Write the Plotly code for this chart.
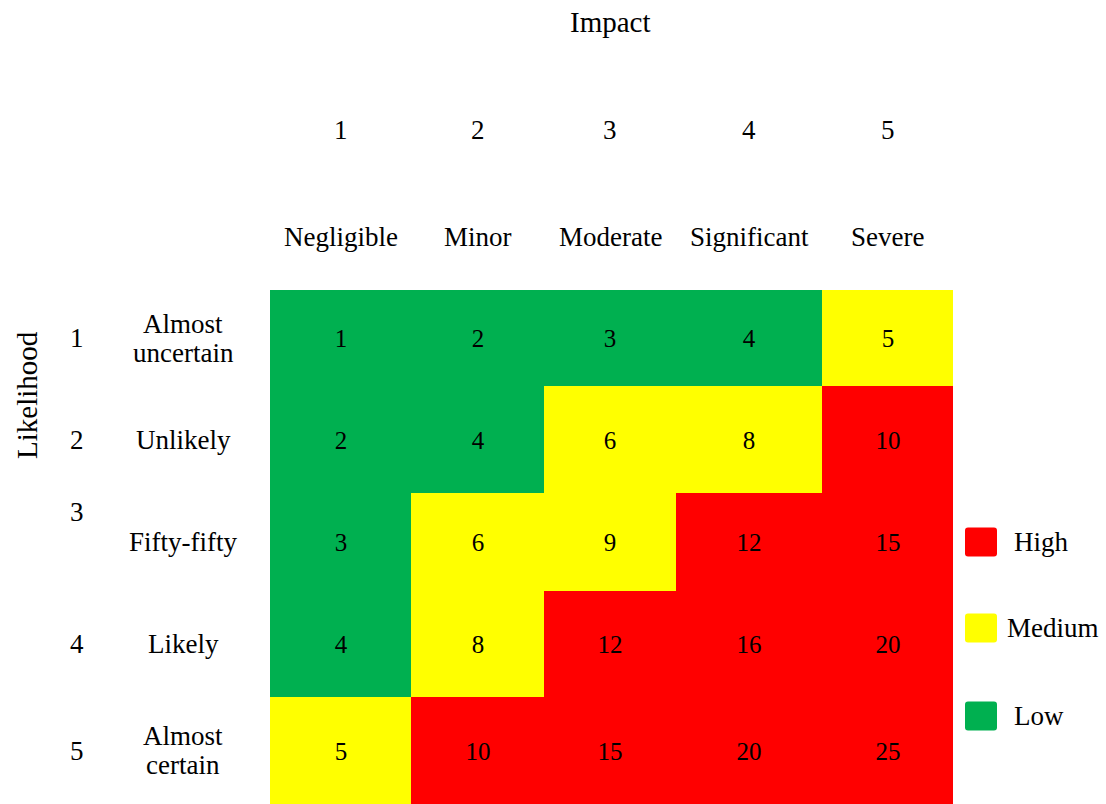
import plotly.graph_objects as go

# ---- data -------------------------------------------------------------
impact_levels = ["1", "2", "3", "4", "5"]
impact_names = ["Negligible", "Minor", "Moderate", "Significant", "Severe"]
likelihood_levels = ["1", "2", "3", "4", "5"]
likelihood_names = [["Almost", "uncertain"], ["Unlikely"], ["Fifty-fifty"],
                    ["Likely"], ["Almost", "certain"]]

# risk score per cell (rows = likelihood, columns = impact)
scores = [
    [1, 2, 3, 4, 5],
    [2, 4, 6, 8, 10],
    [3, 6, 9, 12, 15],
    [4, 8, 12, 16, 20],
    [5, 10, 15, 20, 25],
]
# rating per cell: 0 = Low, 1 = Medium, 2 = High
rating = [
    [0, 0, 0, 0, 1],
    [0, 0, 1, 1, 2],
    [0, 1, 1, 2, 2],
    [0, 1, 2, 2, 2],
    [1, 2, 2, 2, 2],
]
rating_names = ["Low", "Medium", "High"]
rating_colors = ["#00B050", "#FFFF00", "#FF0000"]

# ---- layout geometry ----------------------------------------------------
W, H = 1106, 804
ML, MR, MT, MB = 270, 153, 290, 0
PW, PH = W - ML - MR, H - MT - MB
col_widths = [141, 133, 132, 146, 131]
row_heights = [96, 107, 98, 106, 107]
FONT = "Liberation Serif"


def edges(sizes):
    out = [0]
    for s in sizes:
        out.append(out[-1] + s)
    return out


x_edges = edges(col_widths)
y_edges = edges(row_heights)
x_mid = [(a + b) / 2 for a, b in zip(x_edges[:-1], x_edges[1:])]
y_mid = [(a + b) / 2 for a, b in zip(y_edges[:-1], y_edges[1:])]


def px(x):
    return (x - ML) / PW


def py(y):
    return (H - MB - y) / PH


colorscale = [
    [0.0, rating_colors[0]], [1 / 3, rating_colors[0]],
    [1 / 3, rating_colors[1]], [2 / 3, rating_colors[1]],
    [2 / 3, rating_colors[2]], [1.0, rating_colors[2]],
]

fig = go.Figure(go.Heatmap(
    x=x_edges, y=y_edges, z=rating, zmin=0, zmax=2,
    colorscale=colorscale, showscale=False,
    text=scores, texttemplate="%{text}",
    textfont=dict(family=FONT, size=25, color="black"),
    hoverinfo="skip", xgap=0, ygap=0,
))

ann = []
txt = dict(family=FONT, size=27, color="black")
title_font = dict(family=FONT, size=29, color="black")


def label(text, x, y, xref="paper", yref="paper", xanchor="center", **kw):
    ann.append(dict(text=text, x=x, y=y, xref=xref, yref=yref,
                    xanchor=xanchor, yanchor="middle", showarrow=False,
                    font=kw.pop("font", txt), **kw))


# axis titles
label("Impact", px(610), py(22), font=title_font)
label("Likelihood", px(27), py(395), textangle=-90, font=title_font)

# column headers
for i in range(5):
    label(impact_levels[i], x_mid[i], py(130), xref="x")
    label(impact_names[i], x_mid[i], py(237), xref="x")

# row headers
for j in range(5):
    label(likelihood_levels[j], px(77), y_mid[j], yref="y",
          yshift=30 if j == 2 else 0)
    lines = likelihood_names[j]
    n = len(lines)
    for k, line in enumerate(lines):
        label(line, px(183), y_mid[j], yref="y",
              yshift=(n - 1) * 14.5 - k * 29)

# legend: rounded swatches with labels
shapes = []
legend_rows = [(2, 542, 1012), (1, 628, 1005), (0, 716, 1012)]
for lvl, cy, lx in legend_rows:
    x0, x1, y0, y1, r = 965, 997, cy - 14.5, cy + 14.5, 3
    X0, X1 = px(x0), px(x1)
    Y0, Y1 = py(y1), py(y0)
    rx, ry = r / PW, r / PH
    path = (f"M {X0 + rx},{Y0} L {X1 - rx},{Y0} Q {X1},{Y0} {X1},{Y0 + ry} "
            f"L {X1},{Y1 - ry} Q {X1},{Y1} {X1 - rx},{Y1} "
            f"L {X0 + rx},{Y1} Q {X0},{Y1} {X0},{Y1 - ry} "
            f"L {X0},{Y0 + ry} Q {X0},{Y0} {X0 + rx},{Y0} Z")
    shapes.append(dict(type="path", xref="paper", yref="paper", path=path,
                       fillcolor=rating_colors[lvl], line=dict(width=0)))
    label(rating_names[lvl], px(lx), py(cy), xanchor="left")

fig.update_layout(
    width=W, height=H,
    margin=dict(l=ML, r=MR, t=MT, b=MB, pad=0),
    paper_bgcolor="white", plot_bgcolor="white",
    xaxis=dict(range=[0, x_edges[-1]], visible=False, fixedrange=True),
    yaxis=dict(range=[y_edges[-1], 0], visible=False, fixedrange=True),
    annotations=ann, shapes=shapes,
    font=dict(family=FONT),
)

fig.write_html("out.html")
